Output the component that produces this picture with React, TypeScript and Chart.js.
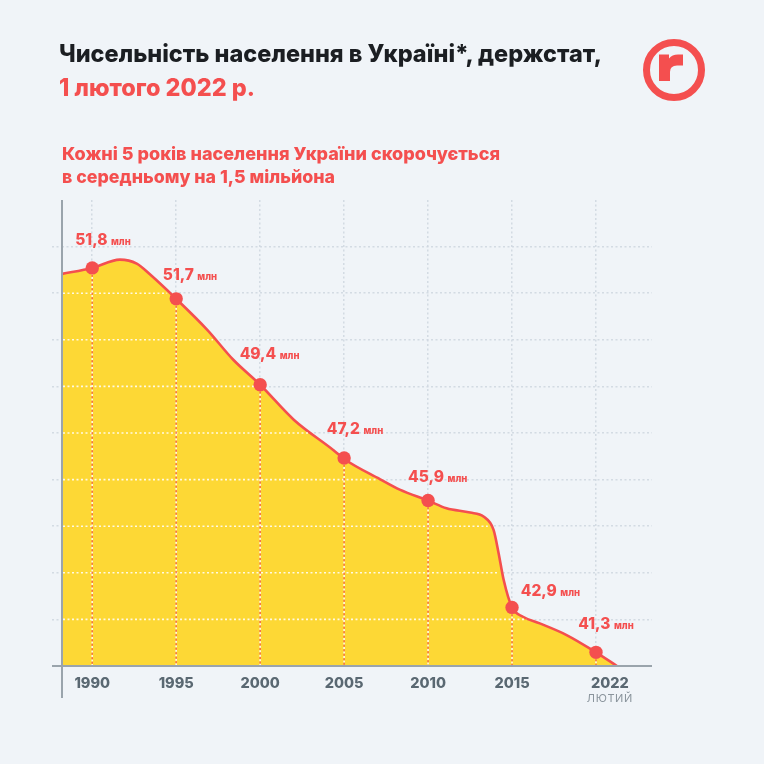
import { useEffect, useRef } from 'react';
import { Chart, registerables } from 'chart.js';

Chart.register(...registerables);

// ---- data ----
const yearLabels = ['1990', '1995', '2000', '2005', '2010', '2015', '2022'];
const monthNote = 'ЛЮТИЙ';
const valueLabels = ['51,8', '51,7', '49,4', '47,2', '45,9', '42,9', '41,3'];
const unitLabel = 'млн';
// slot index of each labelled year on the evenly spaced x axis
const markerSlots = [0, 1, 2, 3, 4, 5, 6];
// marker heights (millions)
const markerLevels = [52.86, 51.93, 49.35, 47.15, 45.87, 42.66, 41.31];
// smooth population curve
const curveSlots = [-0.36, 0, 0.33, 0.53, 0.69, 1, 1.37, 1.68, 2, 2.4, 2.87, 3, 3.43, 3.67, 4, 4.22, 4.5, 4.66, 4.78, 4.84, 4.9, 5, 5.13, 5.33, 5.65, 6, 6.25];
const curveLevels = [52.68, 52.86, 53.11, 52.99, 52.66, 51.93, 51.0, 50.1, 49.35, 48.3, 47.39, 47.12, 46.51, 46.19, 45.87, 45.64, 45.51, 45.39, 44.99, 44.29, 43.49, 42.66, 42.38, 42.18, 41.83, 41.31, 40.9];
const yGridLevels = [42.3, 43.7, 45.1, 46.5, 47.9, 49.3, 50.7, 52.1, 53.5];

// ---- styles ----
const BG = '#f0f4f8';
const RED = '#f44f4f';
const YELLOW = '#fdd835';
const GRID = 'rgba(206,214,223,0.85)';
const GRID_ON_FILL = 'rgba(255,251,236,0.95)';
const DASH = [2, 2.5];
const AXIS = '#9aa4ac';
const TICK_TEXT = '#5a6872';
const FONT = 'Inter, Roboto, "Noto Sans", sans-serif';
const X_MIN = -0.36;
const X_MAX = 6.667;
const Y_MIN = 40.9;
const Y_MAX = 54.9;
const labelSlotShift = [0, 0, 0, 0, 0, 0, 0.165];
const labelDx = [-17, -13.4, -20.5, -17.4, -20, 8.7, -17.7];
const labelDy = [-23, -18.6, -25.7, -24.3, -19, -11.3, -23];

// x pixel where the rendered curve falls to pixel row py (scanning left to right)
function crossingX(pts: any[], py: number) {
  for (let i = 1; i < pts.length; i++) {
    const a = pts[i - 1];
    const b = pts[i];
    if (b.y >= py && a.y < py) {
      const t = (py - a.y) / (b.y - a.y);
      return a.x + t * (b.x - a.x);
    }
  }
  return pts[0].y >= py ? pts[0].x : pts[pts.length - 1].x;
}

function drawOverFill(chart: any) {
  const ctx = chart.ctx;
  const { left, bottom } = chart.chartArea;
  const pts = chart.getDatasetMeta(0).data;
  const markers = chart.getDatasetMeta(1).data;
  const ys = chart.scales.y;
  ctx.save();
  // lighter grid dots where the horizontal grid crosses the yellow area
  ctx.strokeStyle = GRID_ON_FILL;
  ctx.lineWidth = 1.6;
  ctx.setLineDash(DASH);
  ys.ticks.forEach((t: any) => {
    const py = ys.getPixelForValue(t.value);
    const xEnd = crossingX(pts, py) - 3;
    if (xEnd > left) {
      ctx.beginPath();
      ctx.moveTo(left + 1, py);
      ctx.lineTo(xEnd, py);
      ctx.stroke();
    }
  });
  // lighter vertical grid below the markers
  markers.forEach((p: any) => {
    ctx.beginPath();
    ctx.moveTo(p.x, p.y);
    ctx.lineTo(p.x, bottom);
    ctx.stroke();
  });
  // red drop lines from markers
  ctx.lineWidth = 1.5;
  ctx.strokeStyle = 'rgba(244,79,79,0.8)';
  ctx.lineDashOffset = 2.2;
  markers.forEach((p: any) => {
    ctx.beginPath();
    ctx.moveTo(p.x, p.y);
    ctx.lineTo(p.x, bottom);
    ctx.stroke();
  });
  ctx.restore();
}

const decorPlugin = {
  id: 'decor',
  afterDatasetDraw(chart: any, args: any) {
    if (args.index === 0) drawOverFill(chart);
  },
  afterDatasetsDraw(chart: any) {
    const ctx = chart.ctx;
    const { left, right, top, bottom } = chart.chartArea;
    ctx.save();
    // axis lines
    ctx.strokeStyle = AXIS;
    ctx.lineWidth = 2;
    ctx.beginPath();
    ctx.moveTo(left, top);
    ctx.lineTo(left, bottom + 32);
    ctx.moveTo(left - 10, bottom);
    ctx.lineTo(right, bottom);
    ctx.stroke();
    // value labels
    const meta = chart.getDatasetMeta(1);
    ctx.fillStyle = RED;
    ctx.textBaseline = 'alphabetic';
    ctx.textAlign = 'left';
    meta.data.forEach((p: any, i: number) => {
      const x0 = p.x + labelDx[i];
      const y0 = p.y + labelDy[i];
      ctx.font = `800 15.5px ${FONT}`;
      ctx.fillText(valueLabels[i], x0, y0);
      const w = ctx.measureText(valueLabels[i]).width;
      ctx.font = `800 9.5px ${FONT}`;
      ctx.fillText(unitLabel, x0 + w + 3.5, y0);
    });
    // month note under the last year
    const x2 = chart.scales.x2;
    const lastIdx = yearLabels.length - 1;
    const mx = x2.getPixelForValue(markerSlots[lastIdx] + labelSlotShift[lastIdx]);
    ctx.font = `400 11px ${FONT}`;
    (ctx as any).letterSpacing = '0.6px';
    ctx.fillStyle = '#8a949c';
    ctx.textAlign = 'center';
    ctx.fillText(monthNote, mx, bottom + 36);
    ctx.restore();
  },
};

function ChartCanvas() {
  const ref = useRef<HTMLCanvasElement | null>(null);
  useEffect(() => {
    if (!ref.current) return;
    const chart = new Chart(ref.current, {
      type: 'line',
      data: {
        datasets: [
          {
            label: 'curve',
            data: curveSlots.map((x, i) => ({ x, y: curveLevels[i] })),
            borderColor: RED,
            borderWidth: 2.6,
            backgroundColor: YELLOW,
            fill: 'start',
            pointRadius: 0,
            cubicInterpolationMode: 'monotone',
            order: 1,
            xAxisID: 'x',
            yAxisID: 'y',
          },
          {
            label: 'markers',
            data: markerSlots.map((x, i) => ({ x, y: markerLevels[i] })),
            showLine: false,
            pointRadius: 6.7,
            pointBackgroundColor: RED,
            pointBorderWidth: 0,
            borderColor: RED,
            order: 0,
            xAxisID: 'x',
            yAxisID: 'y',
          },
        ],
      } as any,
      options: {
        animation: false,
        responsive: false,
        maintainAspectRatio: false,
        events: [],
        layout: { padding: { left: 52, right: 112, top: 200, bottom: 38 } },
        plugins: {
          legend: { display: false },
          tooltip: { enabled: false },
        } as any,
        scales: {
          x: {
            type: 'linear',
            position: 'bottom',
            min: X_MIN,
            max: X_MAX,
            afterBuildTicks: (s: any) => {
              s.ticks = markerSlots.map((v) => ({ value: v }));
            },
            afterFit: (s: any) => {
              s.height = 0;
            },
            ticks: { display: false },
            grid: { color: GRID, lineWidth: 1.5, drawTicks: false },
            border: { display: false, dash: DASH },
          },
          x2: {
            type: 'linear',
            position: 'bottom',
            min: X_MIN,
            max: X_MAX,
            afterBuildTicks: (s: any) => {
              s.ticks = markerSlots.map((v, i) => ({ value: v + labelSlotShift[i] }));
            },
            afterFit: (s: any) => {
              s.height = 60;
            },
            ticks: {
              autoSkip: false,
              maxRotation: 0,
              padding: 1,
              color: TICK_TEXT,
              font: { family: FONT, size: 14.5, weight: '800' },
              callback: (_v: any, i: number) => yearLabels[i],
            },
            grid: { display: false },
            border: { display: false },
          },
          y: {
            type: 'linear',
            min: Y_MIN,
            max: Y_MAX,
            afterBuildTicks: (s: any) => {
              s.ticks = yGridLevels.map((v) => ({ value: v }));
            },
            afterFit: (s: any) => {
              s.width = 10;
            },
            ticks: { display: false },
            grid: {
              color: GRID,
              lineWidth: 1.5,
              drawTicks: true,
              tickLength: 10,
              tickColor: GRID,
              tickWidth: 1.5,
              tickBorderDash: DASH,
            },
            border: { display: false, dash: DASH },
          },
        } as any,
      },
      plugins: [decorPlugin],
    });
    return () => chart.destroy();
  }, []);
  return (
    <canvas
      ref={ref}
      width={764}
      height={764}
      style={{ position: 'absolute', left: 0, top: 0, width: 764, height: 764 }}
    />
  );
}

export default function App() {
  return (
    <div
      style={{
        position: 'absolute',
        left: 0,
        top: 0,
        width: 764,
        height: 764,
        background: BG,
        overflow: 'hidden',
      }}
    >
      <ChartCanvas />
      <svg
        width={764}
        height={764}
        style={{ position: 'absolute', left: 0, top: 0, pointerEvents: 'none' }}
      >
        <g fontFamily={FONT} fontWeight={800}>
          <text x={59} y={62.3} fontSize={24} fill="#1b1e22" textLength={543} lengthAdjust="spacingAndGlyphs">
            Чисельність населення в Україні*, держстат,
          </text>
          <text x={59} y={95.7} fontSize={24} fill={RED} textLength={196} lengthAdjust="spacingAndGlyphs">
            1 лютого 2022 р.
          </text>
          <text x={62} y={160} fontSize={18} fill={RED} textLength={438} lengthAdjust="spacingAndGlyphs">
            Кожні 5 років населення України скорочується
          </text>
          <text x={62} y={182.7} fontSize={18} fill={RED} textLength={273} lengthAdjust="spacingAndGlyphs">
            в середньому на 1,5 мільйона
          </text>
        </g>
        <circle cx={674} cy={70} r={27.5} fill="none" stroke={RED} strokeWidth={7} />
        <path
          d="M659 81 V54.5 H669 V58.5 Q672 54.5 678 54.5 H683 V65.5 H677 Q670 65.5 670 72 V81 Z"
          fill={RED}
        />
      </svg>
    </div>
  );
}
